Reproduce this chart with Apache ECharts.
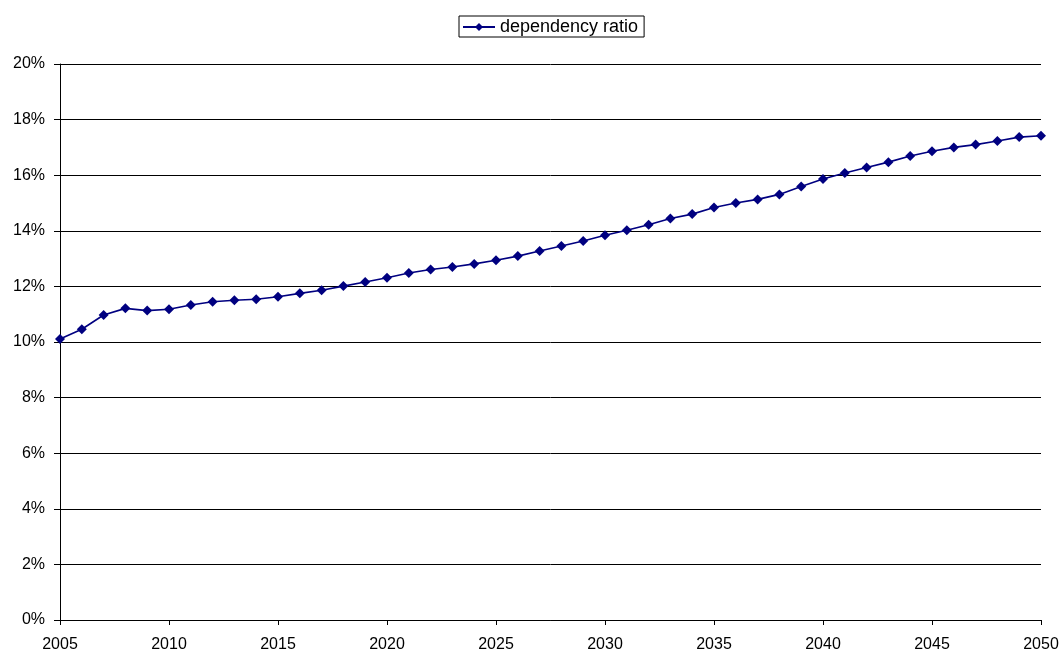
<!DOCTYPE html>
<html>
<head>
<meta charset="utf-8">
<script src="https://cdn.jsdelivr.net/npm/echarts@6/dist/echarts.min.js"></script>
<style>
  html, body { margin: 0; padding: 0; background: #fff; }
  #chart { width: 1063px; height: 656px; }
</style>
</head>
<body>
<div id="chart"></div>
<script>
// Years on the category axis
const years = [];
for (let y = 2005; y <= 2050; y++) years.push(String(y));

// Dependency ratio per year, in percent
const dependencyRatio = [
  10.11, 10.46, 10.97, 11.21, 11.13, 11.18, 11.33, 11.45, 11.50, 11.54,
  11.63, 11.75, 11.86, 12.01, 12.16, 12.31, 12.48, 12.61, 12.70, 12.81,
  12.94, 13.09, 13.27, 13.45, 13.63, 13.84, 14.02, 14.22, 14.44, 14.60,
  14.84, 15.00, 15.13, 15.31, 15.59, 15.86, 16.08, 16.28, 16.47, 16.69,
  16.86, 17.00, 17.10, 17.23, 17.37, 17.42
];

const seriesName = 'dependency ratio';
const font = 'Liberation Sans, Arial, sans-serif';

const chart = echarts.init(document.getElementById('chart'), null, { renderer: 'canvas' });

chart.setOption({
  animation: false,
  backgroundColor: '#ffffff',
  textStyle: { fontFamily: font },
  legend: {
    data: [seriesName],
    left: 459,
    top: 16,
    padding: [2, 6, 1, 3],
    itemWidth: 32,
    itemHeight: 10,
    itemGap: 4,
    borderColor: '#000',
    borderWidth: 1,
    borderRadius: 0,
    textStyle: { color: '#000', fontSize: 18, fontFamily: font }
  },
  grid: { left: 60, right: 22, top: 64, bottom: 36, containLabel: false },
  xAxis: {
    type: 'category',
    data: years,
    boundaryGap: false,
    axisLine: { show: true, lineStyle: { color: '#000', width: 1 } },
    axisTick: { show: true, interval: 4, length: 5, lineStyle: { color: '#000' } },
    axisLabel: { interval: 4, color: '#000', fontSize: 16, margin: 17 },
    splitLine: { show: false }
  },
  yAxis: {
    type: 'value',
    min: 0,
    max: 20,
    interval: 2,
    axisLine: { show: true, lineStyle: { color: '#000', width: 1 } },
    axisTick: { show: true, length: 6, lineStyle: { color: '#000' } },
    axisLabel: { color: '#000', fontSize: 16, margin: 15, formatter: v => v + '%' },
    splitLine: { show: true, lineStyle: { color: '#000', width: 1 } }
  },
  series: [{
    name: seriesName,
    type: 'line',
    data: dependencyRatio,
    symbol: 'diamond',
    symbolSize: 10,
    showAllSymbol: true,
    color: '#000080',
    lineStyle: { color: '#000080', width: 1.6 },
    itemStyle: { color: '#000080' }
  }]
});
</script>
</body>
</html>
